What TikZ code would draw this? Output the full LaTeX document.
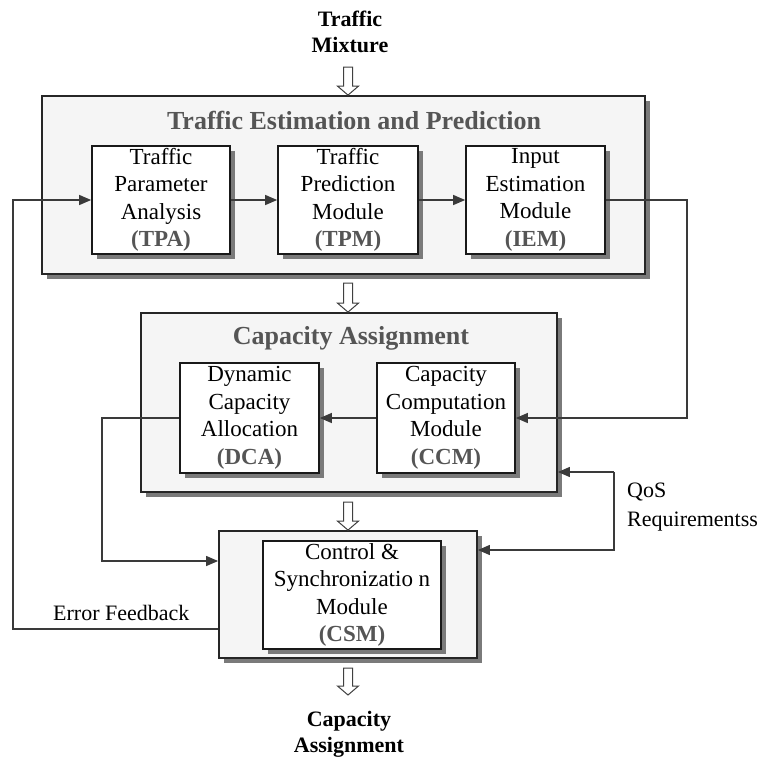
\documentclass[tikz,border=0pt]{standalone}
\usepackage{fontspec}
\setmainfont{Liberation Serif}
\usetikzlibrary{calc,shadows,arrows.meta}
\definecolor{labgray}{HTML}{555555}
\definecolor{panelfill}{HTML}{F5F5F5}
\definecolor{shadowgray}{HTML}{7A7A7A}
\definecolor{wiregray}{HTML}{3A3A3A}

\tikzset{
  panel/.style={draw=black!85, line width=1.8pt, fill=panelfill, inner sep=0pt,
    drop shadow={shadow xshift=5pt, shadow yshift=-5pt, fill=shadowgray, opacity=1}},
  modbox/.style={draw=black!90, line width=1.7pt, fill=white, inner sep=0pt,
    align=center, font=\fontsize{23}{27.5}\selectfont,
    drop shadow={shadow xshift=5pt, shadow yshift=-5pt, fill=shadowgray, opacity=1}},
  paneltitle/.style={font=\bfseries\fontsize{26}{30}\selectfont, text=labgray, inner sep=0pt},
  outerlabel/.style={font=\bfseries\fontsize{22}{26}\selectfont, align=center, inner sep=0pt},
  sidelabel/.style={font=\fontsize{22}{29}\selectfont, inner sep=0pt},
  wire/.style={draw=wiregray, line width=1.2pt},
  wirearrow/.style={wire, -{Triangle[length=12pt,width=10pt]}},
  fatarrow/.style={draw=black!75, line width=1pt, fill=white,
    to path={($(\tikztostart)+(-4.5pt,0)$) -- ($(\tikztotarget)+(-4.5pt,9pt)$)
      -- ($(\tikztotarget)+(-10.5pt,9pt)$) -- (\tikztotarget)
      -- ($(\tikztotarget)+(10.5pt,9pt)$) -- ($(\tikztotarget)+(4.5pt,9pt)$)
      -- ($(\tikztostart)+(4.5pt,0)$) -- cycle}}
}
\newcommand{\abbr}[1]{\textcolor{labgray}{\bfseries #1}}

\begin{document}
\begin{tikzpicture}[x=1pt,y=-1pt]
\useasboundingbox (0,0) rectangle (760,758);
\fill[white] (0,0) rectangle (760,758);

% outer panels
\node[panel, minimum width=603pt, minimum height=178pt] (tep) at (343.5,185) {};
\node[panel, minimum width=416pt, minimum height=179pt] (ca) at (349,402.5) {};
\node[panel, minimum width=258pt, minimum height=127pt] (csmo) at (348,594.5) {};

% panel titles
\node[paneltitle, anchor=base] (teptitle) at (354,129) {Traffic Estimation and Prediction};
\node[paneltitle, anchor=base] (catitle) at (351,344) {Capacity Assignment};

% modules
\node[modbox, minimum width=138pt, minimum height=108pt] (tpa) at (161,200)
  {Traffic\\Parameter\\Analysis\\\abbr{(TPA)}};
\node[modbox, minimum width=140pt, minimum height=108pt] (tpm) at (348,200)
  {Traffic\\Prediction\\Module\\\abbr{(TPM)}};
\node[modbox, minimum width=139pt, minimum height=108pt] (iem) at (535.5,200)
  {Input\\Estimation\\Module\\\abbr{(IEM)}};
\node[modbox, minimum width=139pt, minimum height=110pt] (dca) at (249.5,418)
  {Dynamic\\Capacity\\Allocation\\\abbr{(DCA)}};
\node[modbox, minimum width=138pt, minimum height=110pt] (ccm) at (446,418)
  {Capacity\\Computation\\Module\\\abbr{(CCM)}};
\node[modbox, minimum width=178pt, minimum height=108pt] (csm) at (352,595)
  {Control \&\\Synchronizatio n\\Module\\\abbr{(CSM)}};

% input / output labels
\node[outerlabel] (mix) at (350,32) {Traffic\\Mixture};
\node[outerlabel] (out) at (349,734.5) {Capacity\\Assignment};

% side labels
\node[sidelabel, anchor=base west] (errlab) at (53,620) {Error Feedback};
\node[sidelabel, anchor=west, align=left] (qoslab) at (627,507) {QoS\\Requirementss};

% bend points of the wires
\coordinate (rtc) at (687,418);
\coordinate (dlc) at (102,561);
\coordinate (fbc) at (13,629);
\coordinate (qtc) at (614,472);
\coordinate (qbc) at (614,550);

% wires inside the estimation panel
\draw[wirearrow] (tpa.east) -- (tpm.west);
\draw[wirearrow] (tpm.east) -- (iem.west);
% estimation to capacity computation
\draw[wirearrow] (iem.east) -| (rtc) -- (ccm.east);
\draw[wirearrow] (ccm.west) -- (dca.east);
% allocation to control
\draw[wirearrow] (dca.west) -| (dlc) -- (csmo.west |- dlc);
% QoS requirements
\draw[wirearrow] (qtc) -- (ca.east |- qtc);
\draw[wirearrow] (qtc) -- (qbc) -- (csmo.east |- qbc);
% error feedback
\draw[wirearrow] (csmo.west |- fbc) -- (fbc) |- (tpa.west);

% hollow flow arrows
\coordinate (f1) at (348,67);
\coordinate (f2) at (348,283);
\coordinate (f3) at (348,502);
\coordinate (f4) at (348,668);
\coordinate (f4e) at (348,695);
\path[fatarrow] (f1) to (f1 |- tep.north);
\path[fatarrow] (f2) to (f2 |- ca.north);
\path[fatarrow] (f3) to (f3 |- csmo.north);
\path[fatarrow] (f4) to (f4e);
\end{tikzpicture}
\end{document}
